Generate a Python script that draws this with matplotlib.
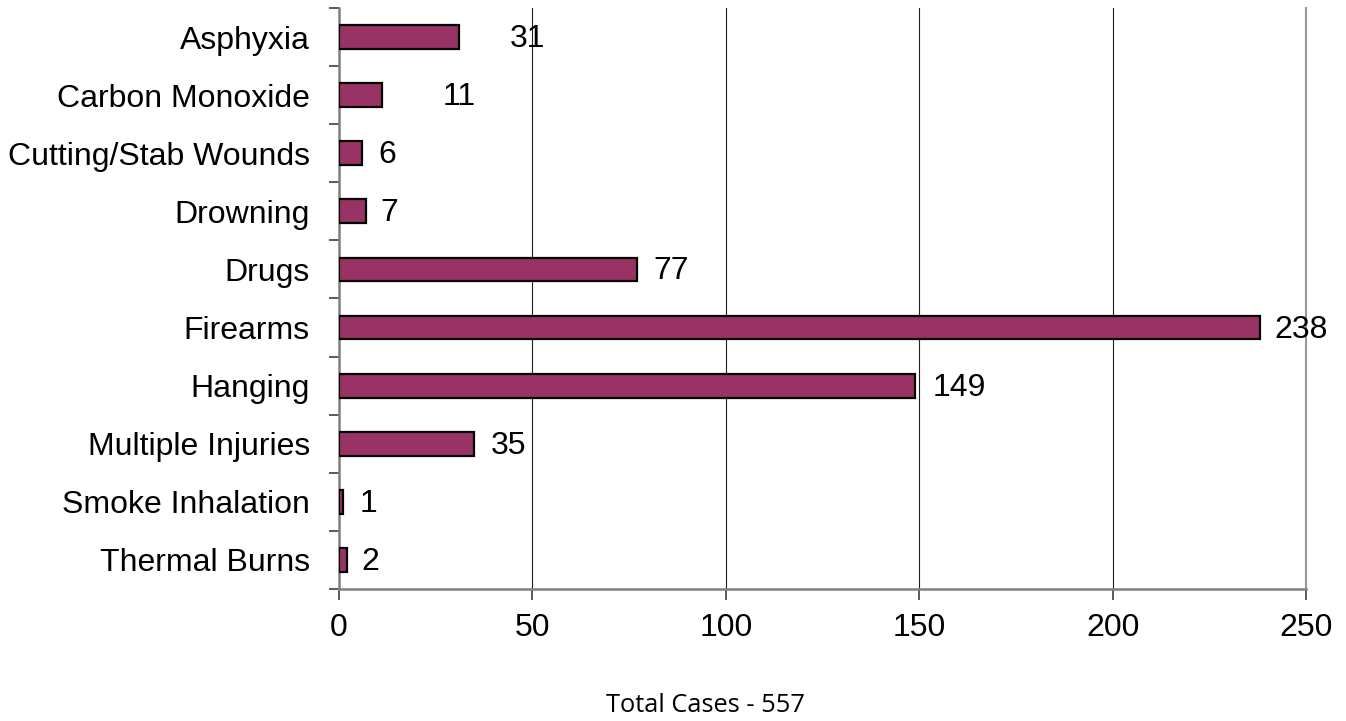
import numpy as np
import matplotlib
matplotlib.use('Agg')
import matplotlib.pyplot as plt
import matplotlib.ticker as mticker

plt.rcParams['font.family'] = ['Liberation Sans', 'DejaVu Sans']

causes = ['Asphyxia', 'Carbon Monoxide', 'Cutting/Stab Wounds', 'Drowning', 'Drugs',
          'Firearms', 'Hanging', 'Multiple Injuries', 'Smoke Inhalation', 'Thermal Burns']
cases = [31, 11, 6, 7, 77, 238, 149, 35, 1, 2]
total_label = 'Total Cases - 557'

# label offsets in pixels from the bar end (the original had a couple pushed out)
label_dx = [51, 61, 16, 14, 17, 15, 17, 16, 17, 15]

fig = plt.figure(figsize=[13.46, 7.21], dpi=100)
ax = fig.add_axes([339/1346, 1-589/721, (1306-339)/1346, (589-8)/721])

ypos = np.arange(len(causes))
ax.barh(ypos, cases, height=0.41, color='#993366', edgecolor='black',
        linewidth=1.6, zorder=3)

for y, v, dx in zip(ypos, cases, label_dx):
    ax.annotate(str(v), xy=(v, y), xytext=(dx, -2), textcoords='offset pixels',
                ha='left', va='center', fontsize=23, zorder=4)

ax.set_xlim(0, 250)
ax.set_ylim(len(causes)-0.5, -0.5)
ax.xaxis.set_major_locator(mticker.MultipleLocator(50))
ax.grid(which='major', axis='x', color='#202020', linewidth=0.8, zorder=0)

ax.set_yticks(ypos)
ax.set_yticklabels(causes)
ax.yaxis.set_minor_locator(mticker.FixedLocator(np.arange(-0.5, len(causes), 1.0)))
ax.tick_params(axis='y', which='major', length=0, pad=21, labelsize=23)
ax.tick_params(axis='y', which='minor', length=7, width=1.2, color='#404040')
ax.tick_params(axis='x', length=8, width=1.2, color='#404040', pad=9, labelsize=23)

ax.spines['top'].set_visible(False)
ax.spines['right'].set_color('#999999')
ax.spines['right'].set_linewidth(1.5)
for s in ['left', 'bottom']:
    ax.spines[s].set_color('#808080')
    ax.spines[s].set_linewidth(1.8)

fig.text(705/1346, 1-705/721, total_label, ha='center', va='center',
         fontsize=18.3, family=['Open Sans', 'DejaVu Sans'])

fig.savefig('out.png', dpi=100)
